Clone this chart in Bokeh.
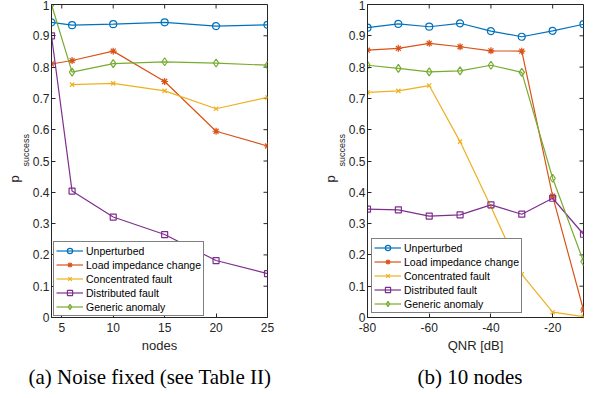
import math
from bokeh.plotting import figure
from bokeh.layouts import row
from bokeh.models import (Range1d, FixedTicker, NumeralTickFormatter,
                          Title, Legend, LegendItem)
from bokeh.embed import file_html
from bokeh.resources import INLINE

NaN = float("nan")

# ---- panel (a): noise fixed ----
nodes = [4, 6, 10, 15, 20, 25]
a_unperturbed = [0.943, 0.934, 0.937, 0.943, 0.931, 0.935]
a_load = [0.810, 0.821, 0.851, 0.754, 0.595, 0.548]
a_concentrated = [NaN, 0.744, 0.748, 0.724, 0.667, 0.703]
a_distributed = [0.900, 0.404, 0.321, 0.265, 0.182, 0.140]
a_generic = [1.000, 0.784, 0.811, 0.817, 0.813, 0.806]

# ---- panel (b): 10 nodes ----
qnr = [-80, -70, -60, -50, -40, -30, -20, -10]
b_unperturbed = [0.926, 0.938, 0.929, 0.940, 0.915, 0.897, 0.916, 0.937]
b_load = [0.854, 0.860, 0.876, 0.865, 0.852, 0.851, 0.388, 0.024]
b_concentrated = [0.719, 0.724, 0.741, 0.562, 0.354, 0.138, 0.017, 0.003]
b_distributed = [0.346, 0.344, 0.324, 0.328, 0.360, 0.330, 0.381, 0.266]
b_generic = [0.806, 0.796, 0.785, 0.788, 0.806, 0.783, 0.445, 0.179]

series_names = ["Unperturbed", "Load impedance change", "Concentrated fault",
                "Distributed fault", "Generic anomaly"]
colors = ["#0072BD", "#D95319", "#EDB120", "#7E2F8E", "#77AC30"]
markers = ["circle", "asterisk", "x", "square", "diamond"]
msizes = [7, 7, 6, 6, 8]

y_ticks = [0, 0.1, 0.2, 0.3, 0.4, 0.5, 0.6, 0.7, 0.8, 0.9, 1]
a_xticks = [5, 10, 15, 20, 25]
b_xticks = [-80, -60, -40, -20]

AX = "#262626"
FONT = "Liberation Sans"


def style_axis(ax, ticks, fmt):
    ax.ticker = FixedTicker(ticks=ticks)
    ax.formatter = NumeralTickFormatter(format=fmt)
    ax.axis_line_color = AX
    ax.major_tick_line_color = AX
    ax.major_tick_in = 4
    ax.major_tick_out = 0
    ax.minor_tick_line_color = None
    ax.major_label_text_font = FONT
    ax.major_label_text_color = AX
    ax.major_label_text_font_size = "12px"


def make_panel(xs, ys_list, xr, xticks, xlabel, caption, width, border_left, border_right,
               leg_loc, cap_offset):
    p = figure(width=width, height=398, x_range=Range1d(*xr), y_range=Range1d(0, 1),
               output_backend="svg", toolbar_location=None,
               min_border_left=border_left, min_border_right=border_right,
               min_border_top=4, min_border_bottom=81)
    p.xgrid.visible = False
    p.ygrid.visible = False
    p.outline_line_color = AX
    p.background_fill_color = "white"
    p.border_fill_color = "white"

    style_axis(p.xaxis[0], xticks, "0")
    style_axis(p.yaxis[0], y_ticks, "0.[0]")
    p.yaxis[0].major_label_standoff = 2
    p.xaxis[0].major_label_standoff = 5
    p.xaxis[0].axis_label = xlabel
    p.xaxis[0].axis_label_text_font = FONT
    p.xaxis[0].axis_label_text_font_size = "13px"
    p.xaxis[0].axis_label_text_font_style = "normal"
    p.xaxis[0].axis_label_text_color = AX
    p.xaxis[0].axis_label_standoff = 3

    # inward ticks on the top and right edges of the box
    p.ray(x=xticks, y=[1] * len(xticks), length=4, length_units="screen",
          angle=-math.pi / 2, line_color=AX, line_width=1)
    p.ray(x=[xr[1]] * len(y_ticks), y=y_ticks, length=4, length_units="screen",
          angle=math.pi, line_color=AX, line_width=1)

    items = []
    for name, ys, c, m, s in zip(series_names, ys_list, colors, markers, msizes):
        ln = p.line(xs, ys, line_color=c, line_width=1.2)
        sc = p.scatter(xs, ys, marker=m, size=s, line_color=c, fill_color=None,
                       line_width=1.2)
        items.append(LegendItem(label=name, renderers=[ln, sc]))

    leg = Legend(items=items, location=leg_loc, margin=0, padding=2, spacing=1,
                 glyph_height=13, glyph_width=27, label_height=13, label_standoff=3,
                 label_text_font=FONT, label_text_font_size="10.5px",
                 label_text_color="black", border_line_color="black",
                 border_line_width=1, background_fill_color="white",
                 background_fill_alpha=1.0)
    p.add_layout(leg, "center")

    # y-axis label: p with subscript "success"
    p.add_layout(Title(text="success", align="left", offset=151, standoff=-3,
                       text_font=FONT, text_font_size="9px",
                       text_font_style="normal", text_color=AX), "left")
    p.add_layout(Title(text="p", align="left", offset=135, standoff=-3,
                       text_font=FONT, text_font_size="13px",
                       text_font_style="normal", text_color=AX), "left")
    # caption
    p.add_layout(Title(text=caption, align="left", offset=cap_offset, standoff=15,
                       text_font="Liberation Serif", text_font_size="21px",
                       text_font_style="normal", text_color="black"), "below")
    return p


pa = make_panel(nodes, [a_unperturbed, a_load, a_concentrated, a_distributed, a_generic],
                (4, 25), a_xticks, "nodes", "(a) Noise fixed (see Table II)",
                300, 51, 33, (2, 1), -23)
pb = make_panel(qnr, [b_unperturbed, b_load, b_concentrated, b_distributed, b_generic],
                (-80, -10), b_xticks, "QNR [dB]", "(b) 10 nodes",
                297, 67, 14, (4, 4), 50)

layout = row(pa, pb)
open("out.html", "w").write(file_html(layout, INLINE))
